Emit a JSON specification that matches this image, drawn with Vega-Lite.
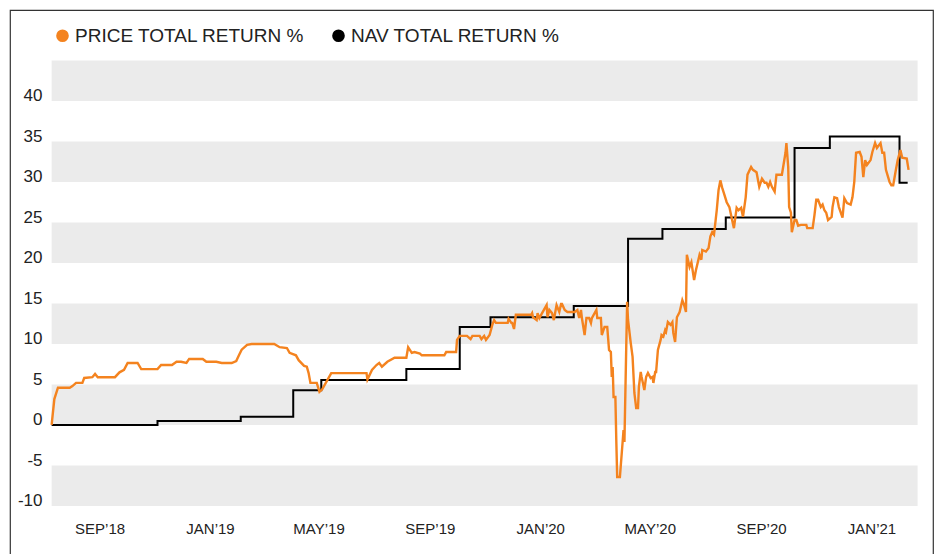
{
  "$schema": "https://vega.github.io/schema/vega-lite/v6.json",
  "width": 923,
  "height": 550,
  "autosize": {"type": "none"},
  "padding": {"left": 10, "top": 10, "right": 5, "bottom": 0},
  "background": "white",
  "config": {
    "view": {"stroke": "#333333", "strokeWidth": 1.2},
    "font": "Liberation Sans"
  },
  "datasets": {
    "bands": [
      {"lo": 40, "hi": 45}, {"lo": 30, "hi": 35}, {"lo": 20, "hi": 25},
      {"lo": 10, "hi": 15}, {"lo": 0, "hi": 5}, {"lo": -10, "hi": -5}
    ],
    "nav": [
      {"date": "2018-07-10", "value": 0},
      {"date": "2018-11-04", "value": 0.5},
      {"date": "2019-02-04", "value": 1.0},
      {"date": "2019-04-03", "value": 4.3},
      {"date": "2019-05-04", "value": 5.55},
      {"date": "2019-08-06", "value": 6.9},
      {"date": "2019-10-04", "value": 12.1},
      {"date": "2019-11-07", "value": 13.3},
      {"date": "2020-02-07", "value": 14.7},
      {"date": "2020-04-07", "value": 23.0},
      {"date": "2020-05-15", "value": 24.2},
      {"date": "2020-07-24", "value": 25.6},
      {"date": "2020-10-08", "value": 34.2},
      {"date": "2020-11-16", "value": 35.6},
      {"date": "2021-02-01", "value": 29.9},
      {"date": "2021-02-10", "value": 29.9}
    ],
    "price": [
      {"date": "2018-07-10", "value": 0},
      {"date": "2018-07-13", "value": 3.2},
      {"date": "2018-07-17", "value": 4.6},
      {"date": "2018-07-30", "value": 4.6},
      {"date": "2018-08-02", "value": 4.8},
      {"date": "2018-08-06", "value": 5.2},
      {"date": "2018-08-13", "value": 5.2},
      {"date": "2018-08-15", "value": 5.8},
      {"date": "2018-08-24", "value": 5.9},
      {"date": "2018-08-27", "value": 6.3},
      {"date": "2018-08-30", "value": 5.9},
      {"date": "2018-09-18", "value": 5.9},
      {"date": "2018-09-23", "value": 6.5},
      {"date": "2018-09-28", "value": 6.8},
      {"date": "2018-10-02", "value": 7.65},
      {"date": "2018-10-13", "value": 7.65},
      {"date": "2018-10-17", "value": 6.9},
      {"date": "2018-11-04", "value": 6.9},
      {"date": "2018-11-08", "value": 7.4},
      {"date": "2018-11-20", "value": 7.4},
      {"date": "2018-11-25", "value": 7.8},
      {"date": "2018-11-30", "value": 7.8},
      {"date": "2018-12-06", "value": 7.65},
      {"date": "2018-12-09", "value": 8.15},
      {"date": "2018-12-24", "value": 8.15},
      {"date": "2018-12-28", "value": 7.8},
      {"date": "2019-01-08", "value": 7.8},
      {"date": "2019-01-14", "value": 7.65},
      {"date": "2019-01-25", "value": 7.65},
      {"date": "2019-01-30", "value": 7.9},
      {"date": "2019-02-02", "value": 8.6},
      {"date": "2019-02-05", "value": 9.3},
      {"date": "2019-02-11", "value": 9.9},
      {"date": "2019-02-16", "value": 10.0},
      {"date": "2019-03-13", "value": 10.0},
      {"date": "2019-03-19", "value": 9.6},
      {"date": "2019-03-27", "value": 9.5},
      {"date": "2019-03-30", "value": 8.9},
      {"date": "2019-04-06", "value": 8.6},
      {"date": "2019-04-09", "value": 8.0},
      {"date": "2019-04-15", "value": 7.3},
      {"date": "2019-04-18", "value": 7.2},
      {"date": "2019-04-20", "value": 6.4},
      {"date": "2019-04-22", "value": 5.2},
      {"date": "2019-04-29", "value": 5.2},
      {"date": "2019-05-02", "value": 4.1},
      {"date": "2019-05-05", "value": 4.4},
      {"date": "2019-05-11", "value": 5.6},
      {"date": "2019-05-15", "value": 6.4},
      {"date": "2019-05-21", "value": 6.4},
      {"date": "2019-06-23", "value": 6.4},
      {"date": "2019-06-24", "value": 5.6},
      {"date": "2019-06-29", "value": 6.8},
      {"date": "2019-07-04", "value": 7.4},
      {"date": "2019-07-07", "value": 7.65},
      {"date": "2019-07-10", "value": 7.2},
      {"date": "2019-07-16", "value": 7.8},
      {"date": "2019-07-24", "value": 8.3},
      {"date": "2019-08-06", "value": 8.3},
      {"date": "2019-08-08", "value": 9.6},
      {"date": "2019-08-12", "value": 8.9},
      {"date": "2019-08-15", "value": 9.0},
      {"date": "2019-08-21", "value": 8.8},
      {"date": "2019-08-23", "value": 8.6},
      {"date": "2019-09-17", "value": 8.6},
      {"date": "2019-09-19", "value": 9.0},
      {"date": "2019-09-30", "value": 9.0},
      {"date": "2019-10-01", "value": 10.5},
      {"date": "2019-10-04", "value": 11.0},
      {"date": "2019-10-12", "value": 11.0},
      {"date": "2019-10-16", "value": 10.6},
      {"date": "2019-10-18", "value": 11.0},
      {"date": "2019-10-26", "value": 11.0},
      {"date": "2019-10-28", "value": 10.6},
      {"date": "2019-10-31", "value": 11.0},
      {"date": "2019-11-02", "value": 10.5},
      {"date": "2019-11-06", "value": 11.1},
      {"date": "2019-11-09", "value": 12.35},
      {"date": "2019-11-11", "value": 12.95},
      {"date": "2019-11-13", "value": 12.6},
      {"date": "2019-11-26", "value": 12.6},
      {"date": "2019-11-27", "value": 13.1},
      {"date": "2019-11-30", "value": 12.6},
      {"date": "2019-12-01", "value": 12.6},
      {"date": "2019-12-03", "value": 11.85},
      {"date": "2019-12-05", "value": 13.6},
      {"date": "2019-12-22", "value": 13.6},
      {"date": "2019-12-23", "value": 13.8},
      {"date": "2019-12-24", "value": 13.3},
      {"date": "2019-12-28", "value": 12.95},
      {"date": "2019-12-29", "value": 13.8},
      {"date": "2019-12-31", "value": 13.2},
      {"date": "2020-01-03", "value": 13.8},
      {"date": "2020-01-08", "value": 14.8},
      {"date": "2020-01-09", "value": 13.3},
      {"date": "2020-01-11", "value": 14.2},
      {"date": "2020-01-14", "value": 13.8},
      {"date": "2020-01-16", "value": 12.95},
      {"date": "2020-01-19", "value": 14.8},
      {"date": "2020-01-22", "value": 13.95},
      {"date": "2020-01-24", "value": 14.94},
      {"date": "2020-01-25", "value": 14.94},
      {"date": "2020-01-28", "value": 14.2},
      {"date": "2020-01-31", "value": 13.95},
      {"date": "2020-02-04", "value": 13.95},
      {"date": "2020-02-08", "value": 13.95},
      {"date": "2020-02-11", "value": 14.2},
      {"date": "2020-02-13", "value": 13.2},
      {"date": "2020-02-15", "value": 14.2},
      {"date": "2020-02-16", "value": 13.2},
      {"date": "2020-02-19", "value": 11.1},
      {"date": "2020-02-21", "value": 13.2},
      {"date": "2020-02-24", "value": 13.2},
      {"date": "2020-02-26", "value": 12.6},
      {"date": "2020-02-27", "value": 13.2},
      {"date": "2020-03-03", "value": 14.2},
      {"date": "2020-03-04", "value": 13.2},
      {"date": "2020-03-08", "value": 13.2},
      {"date": "2020-03-09", "value": 11.1},
      {"date": "2020-03-12", "value": 12.1},
      {"date": "2020-03-15", "value": 12.1},
      {"date": "2020-03-17", "value": 9.26},
      {"date": "2020-03-19", "value": 9.0},
      {"date": "2020-03-20", "value": 5.93},
      {"date": "2020-03-21", "value": 7.16},
      {"date": "2020-03-22", "value": 3.46},
      {"date": "2020-03-24", "value": 3.46},
      {"date": "2020-03-25", "value": -1.85},
      {"date": "2020-03-26", "value": -6.42},
      {"date": "2020-03-29", "value": -6.42},
      {"date": "2020-04-01", "value": -2.1},
      {"date": "2020-04-02", "value": -0.62},
      {"date": "2020-04-03", "value": -2.1},
      {"date": "2020-04-05", "value": 9.63},
      {"date": "2020-04-06", "value": 15.2},
      {"date": "2020-04-07", "value": 12.96},
      {"date": "2020-04-10", "value": 10.1},
      {"date": "2020-04-12", "value": 8.4},
      {"date": "2020-04-14", "value": 3.95},
      {"date": "2020-04-16", "value": 2.1},
      {"date": "2020-04-18", "value": 2.1},
      {"date": "2020-04-19", "value": 4.7},
      {"date": "2020-04-21", "value": 6.54},
      {"date": "2020-04-22", "value": 5.93},
      {"date": "2020-04-25", "value": 4.32},
      {"date": "2020-04-27", "value": 5.93},
      {"date": "2020-04-29", "value": 6.42},
      {"date": "2020-05-02", "value": 5.8},
      {"date": "2020-05-04", "value": 5.93},
      {"date": "2020-05-05", "value": 5.19},
      {"date": "2020-05-07", "value": 6.54},
      {"date": "2020-05-08", "value": 6.54},
      {"date": "2020-05-10", "value": 9.26},
      {"date": "2020-05-13", "value": 10.5},
      {"date": "2020-05-14", "value": 11.1},
      {"date": "2020-05-16", "value": 10.9},
      {"date": "2020-05-18", "value": 11.7},
      {"date": "2020-05-19", "value": 11.5},
      {"date": "2020-05-21", "value": 12.7},
      {"date": "2020-05-24", "value": 12.35},
      {"date": "2020-05-26", "value": 12.7},
      {"date": "2020-05-27", "value": 11.36},
      {"date": "2020-05-29", "value": 10.25},
      {"date": "2020-05-31", "value": 13.3},
      {"date": "2020-06-03", "value": 13.95},
      {"date": "2020-06-06", "value": 15.4},
      {"date": "2020-06-08", "value": 14.8},
      {"date": "2020-06-10", "value": 13.95},
      {"date": "2020-06-11", "value": 21.0},
      {"date": "2020-06-14", "value": 19.5},
      {"date": "2020-06-16", "value": 20.1},
      {"date": "2020-06-19", "value": 17.9},
      {"date": "2020-06-21", "value": 19.1},
      {"date": "2020-06-25", "value": 21.0},
      {"date": "2020-06-27", "value": 20.4},
      {"date": "2020-06-28", "value": 21.6},
      {"date": "2020-07-02", "value": 21.4},
      {"date": "2020-07-05", "value": 21.85},
      {"date": "2020-07-07", "value": 23.3},
      {"date": "2020-07-09", "value": 23.8},
      {"date": "2020-07-11", "value": 23.5},
      {"date": "2020-07-14", "value": 26.5},
      {"date": "2020-07-16", "value": 29.0},
      {"date": "2020-07-18", "value": 30.2},
      {"date": "2020-07-20", "value": 29.3},
      {"date": "2020-07-22", "value": 28.6},
      {"date": "2020-07-25", "value": 27.5},
      {"date": "2020-07-28", "value": 26.9},
      {"date": "2020-07-31", "value": 25.3},
      {"date": "2020-08-02", "value": 24.3},
      {"date": "2020-08-05", "value": 26.8},
      {"date": "2020-08-07", "value": 26.5},
      {"date": "2020-08-10", "value": 26.8},
      {"date": "2020-08-12", "value": 25.7},
      {"date": "2020-08-15", "value": 28.1},
      {"date": "2020-08-17", "value": 30.9},
      {"date": "2020-08-21", "value": 31.85},
      {"date": "2020-08-23", "value": 31.5},
      {"date": "2020-08-27", "value": 31.2},
      {"date": "2020-08-30", "value": 29.4},
      {"date": "2020-09-02", "value": 30.4},
      {"date": "2020-09-05", "value": 29.9},
      {"date": "2020-09-07", "value": 29.9},
      {"date": "2020-09-09", "value": 29.4},
      {"date": "2020-09-11", "value": 30.0},
      {"date": "2020-09-13", "value": 29.4},
      {"date": "2020-09-16", "value": 28.8},
      {"date": "2020-09-18", "value": 30.9},
      {"date": "2020-09-24", "value": 30.9},
      {"date": "2020-09-28", "value": 33.6},
      {"date": "2020-09-29", "value": 34.8},
      {"date": "2020-10-01", "value": 31.85},
      {"date": "2020-10-02", "value": 26.9},
      {"date": "2020-10-04", "value": 26.2},
      {"date": "2020-10-05", "value": 23.8},
      {"date": "2020-10-08", "value": 25.3},
      {"date": "2020-10-10", "value": 25.3},
      {"date": "2020-10-12", "value": 24.6},
      {"date": "2020-10-15", "value": 24.7},
      {"date": "2020-10-21", "value": 24.7},
      {"date": "2020-10-22", "value": 24.3},
      {"date": "2020-10-28", "value": 24.3},
      {"date": "2020-10-30", "value": 25.9},
      {"date": "2020-11-01", "value": 27.8},
      {"date": "2020-11-03", "value": 27.8},
      {"date": "2020-11-06", "value": 26.9},
      {"date": "2020-11-08", "value": 27.2},
      {"date": "2020-11-10", "value": 26.5},
      {"date": "2020-11-12", "value": 26.2},
      {"date": "2020-11-14", "value": 25.3},
      {"date": "2020-11-18", "value": 25.7},
      {"date": "2020-11-19", "value": 26.9},
      {"date": "2020-11-21", "value": 28.1},
      {"date": "2020-11-24", "value": 28.0},
      {"date": "2020-11-26", "value": 26.9},
      {"date": "2020-11-30", "value": 25.6},
      {"date": "2020-12-02", "value": 28.0},
      {"date": "2020-12-05", "value": 27.4},
      {"date": "2020-12-09", "value": 27.2},
      {"date": "2020-12-11", "value": 28.1},
      {"date": "2020-12-13", "value": 30.0},
      {"date": "2020-12-15", "value": 33.6},
      {"date": "2020-12-19", "value": 33.7},
      {"date": "2020-12-21", "value": 33.1},
      {"date": "2020-12-23", "value": 30.6},
      {"date": "2020-12-25", "value": 32.7},
      {"date": "2020-12-27", "value": 32.1},
      {"date": "2020-12-31", "value": 32.7},
      {"date": "2021-01-02", "value": 33.7},
      {"date": "2021-01-05", "value": 34.8},
      {"date": "2021-01-07", "value": 34.2},
      {"date": "2021-01-11", "value": 34.8},
      {"date": "2021-01-13", "value": 33.6},
      {"date": "2021-01-15", "value": 33.6},
      {"date": "2021-01-17", "value": 31.5},
      {"date": "2021-01-21", "value": 30.0},
      {"date": "2021-01-23", "value": 29.6},
      {"date": "2021-01-25", "value": 29.6},
      {"date": "2021-01-28", "value": 31.5},
      {"date": "2021-01-30", "value": 32.7},
      {"date": "2021-02-02", "value": 33.95},
      {"date": "2021-02-04", "value": 33.0},
      {"date": "2021-02-09", "value": 32.9},
      {"date": "2021-02-11", "value": 31.5}
    ]
  },
  "layer": [
    {
      "data": {"name": "bands"},
      "mark": {"type": "rect", "color": "#ebebeb"},
      "encoding": {
        "x": {
          "datum": {"year": 2018, "month": 7, "date": 10, "utc": true},
          "type": "temporal",
          "scale": {
            "type": "utc",
            "domain": [
              {"year": 2018, "month": 5, "date": 25, "utc": true},
              {"year": 2021, "month": 3, "date": 10, "utc": true}
            ],
            "nice": false
          },
          "axis": {
            "orient": "bottom",
            "offset": -41,
            "title": null,
            "domain": false,
            "ticks": false,
            "grid": false,
            "labelPadding": 2,
            "labelBaseline": "top",
            "labelFontSize": 15,
            "labelColor": "#222222",
            "labelOverlap": false,
            "labelFlush": false,
            "values": [
              {"year": 2018, "month": 9, "date": 1, "utc": true},
              {"year": 2019, "month": 1, "date": 1, "utc": true},
              {"year": 2019, "month": 5, "date": 1, "utc": true},
              {"year": 2019, "month": 9, "date": 1, "utc": true},
              {"year": 2020, "month": 1, "date": 1, "utc": true},
              {"year": 2020, "month": 5, "date": 1, "utc": true},
              {"year": 2020, "month": 9, "date": 1, "utc": true},
              {"year": 2021, "month": 1, "date": 1, "utc": true}
            ],
            "labelExpr": "upper(utcFormat(datum.value, '%b')) + '’' + utcFormat(datum.value, '%y')"
          }
        },
        "x2": {"datum": {"year": 2021, "month": 2, "date": 21, "utc": true}},
        "y": {
          "field": "lo",
          "type": "quantitative",
          "scale": {"domain": [-16.67, 51.23], "nice": false, "zero": false},
          "axis": {
            "orient": "left",
            "offset": -42,
            "title": null,
            "domain": false,
            "ticks": false,
            "grid": false,
            "labelPadding": 10,
            "labelBaseline": "alphabetic",
            "labelFontSize": 17,
            "labelColor": "#222222",
            "labelAlign": "right",
            "labelExpr": "'' + datum.value",
            "values": [-10, -5, 0, 5, 10, 15, 20, 25, 30, 35, 40]
          }
        },
        "y2": {"field": "hi"}
      }
    },
    {
      "data": {"name": "nav"},
      "mark": {"type": "line", "interpolate": "step-after", "strokeWidth": 2},
      "encoding": {
        "x": {"field": "date", "type": "temporal"},
        "y": {"field": "value", "type": "quantitative"},
        "color": {"datum": "NAV TOTAL RETURN %", "type": "nominal"}
      }
    },
    {
      "data": {"name": "price"},
      "mark": {"type": "line", "strokeWidth": 2.4},
      "encoding": {
        "x": {"field": "date", "type": "temporal"},
        "y": {"field": "value", "type": "quantitative"},
        "color": {
          "datum": "PRICE TOTAL RETURN %",
          "type": "nominal",
          "scale": {
            "domain": ["PRICE TOTAL RETURN %", "NAV TOTAL RETURN %"],
            "range": ["#f4831f", "#000000"]
          },
          "legend": {
            "orient": "none",
            "legendX": 43,
            "legendY": 16,
            "direction": "horizontal",
            "title": null,
            "padding": 0,
            "symbolType": "circle",
            "symbolSize": 160,
            "symbolStrokeWidth": 0,
            "labelFontSize": 19,
            "labelColor": "#222222",
            "labelOffset": 3,
            "labelLimit": 400,
            "columnPadding": 24,
            "encode": {
              "symbols": {"update": {"fill": {"scale": "color", "field": "value"}, "opacity": {"value": 1}}}
            }
          }
        }
      }
    }
  ]
}
